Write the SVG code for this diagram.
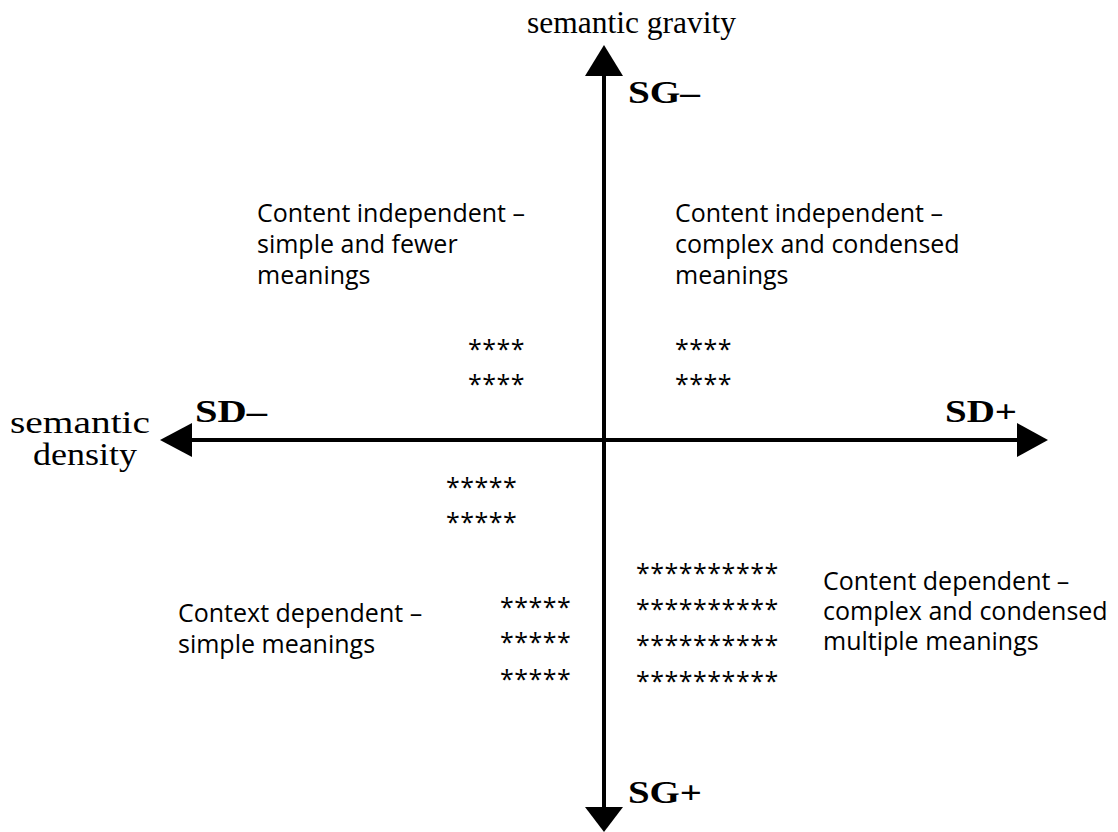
<svg xmlns="http://www.w3.org/2000/svg" width="1118" height="832" viewBox="0 0 1118 832">
<style>
.serif{font-family:"Liberation Serif","Times New Roman",serif;fill:#000}
.bold{font-weight:bold}
.sans{font-family:"Open Sans","Noto Sans",sans-serif;font-size:25px;fill:#000}
.star{font-family:"Open Sans","Noto Sans",sans-serif;font-size:25px;fill:#000;letter-spacing:0.5px}
.axis{stroke:#000;stroke-width:4;fill:none}
.head{fill:#000}
</style>
<rect width="1118" height="832" fill="#fff"/>
<g id="connectors">
  <line class="axis" x1="604" y1="74" x2="604" y2="809"/>
  <polygon class="head" points="604,45 585,76 623,76"/>
  <polygon class="head" points="585,807 623,807 604,832"/>
  <line class="axis" x1="190" y1="440" x2="1019" y2="440"/>
  <polygon class="head" points="160,440 192,423 192,457"/>
  <polygon class="head" points="1048,440 1017,423 1017,457"/>
</g>
<g id="axis-gravity-label"><text class="serif" x="527" y="33" font-size="32" textLength="209" lengthAdjust="spacingAndGlyphs">semantic gravity</text></g>
<g id="axis-density-label">
  <text class="serif" x="10" y="433" font-size="32" textLength="140" lengthAdjust="spacingAndGlyphs">semantic</text>
  <text class="serif" x="33" y="465" font-size="32" textLength="104" lengthAdjust="spacingAndGlyphs">density</text>
</g>
<g id="sg-minus"><text class="serif bold" x="628" y="103" font-size="32" textLength="72" lengthAdjust="spacingAndGlyphs">SG–</text></g>
<g id="sg-plus"><text class="serif bold" x="628" y="803" font-size="32" textLength="74" lengthAdjust="spacingAndGlyphs">SG+</text></g>
<g id="sd-minus"><text class="serif bold" x="195" y="422" font-size="31" textLength="72" lengthAdjust="spacingAndGlyphs">SD–</text></g>
<g id="sd-plus"><text class="serif bold" x="945" y="422" font-size="31" textLength="72" lengthAdjust="spacingAndGlyphs">SD+</text></g>
<g id="top-left-label">
  <text class="sans" x="257" y="222">Content independent –</text>
  <text class="sans" x="257" y="253">simple and fewer</text>
  <text class="sans" x="257" y="284">meanings</text>
</g>
<g id="top-right-label">
  <text class="sans" x="675" y="222">Content independent –</text>
  <text class="sans" x="675" y="253">complex and condensed</text>
  <text class="sans" x="675" y="284">meanings</text>
</g>
<g id="bottom-left-label">
  <text class="sans" x="178" y="622">Context dependent –</text>
  <text class="sans" x="178" y="653">simple meanings</text>
</g>
<g id="bottom-right-label">
  <text class="sans" x="823" y="590">Content dependent –</text>
  <text class="sans" x="823" y="620">complex and condensed</text>
  <text class="sans" x="823" y="650">multiple meanings</text>
</g>
<g id="stars-top-left">
  <text class="star" x="468" y="358">****</text>
  <text class="star" x="468" y="393">****</text>
</g>
<g id="stars-top-right">
  <text class="star" x="675" y="358">****</text>
  <text class="star" x="675" y="393">****</text>
</g>
<g id="stars-mid-left">
  <text class="star" x="446" y="496">*****</text>
  <text class="star" x="446" y="531">*****</text>
</g>
<g id="stars-bottom-left">
  <text class="star" x="500" y="616">*****</text>
  <text class="star" x="500" y="651">*****</text>
  <text class="star" x="500" y="688">*****</text>
</g>
<g id="stars-bottom-right">
  <text class="star" x="636" y="582">**********</text>
  <text class="star" x="636" y="618">**********</text>
  <text class="star" x="636" y="654">**********</text>
  <text class="star" x="636" y="690">**********</text>
</g>
</svg>
